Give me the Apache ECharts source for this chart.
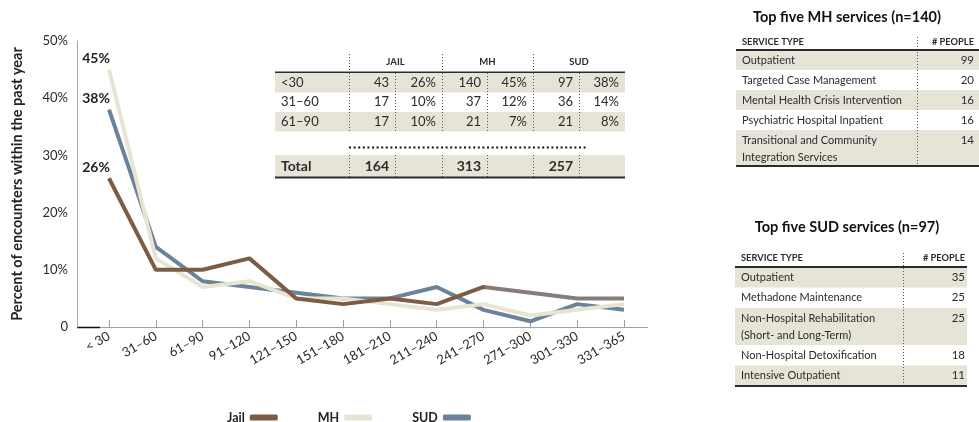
<!DOCTYPE html>
<html>
<head>
<meta charset="utf-8">
<script src="https://cdn.jsdelivr.net/npm/echarts@6/dist/echarts.min.js"></script>
<style>
  html, body { margin: 0; background: #fff; }
  #chart { width: 979px; height: 422px; }
</style>
</head>
<body>
<div id="chart"></div>
<script>
// days since release -> share of encounters (%)
const categories = ['< 30', '31–60', '61–90', '91–120', '121–150', '151–180', '181–210', '211–240', '241–270', '271–300', '301–330', '331–365'];
const jail = [26, 10, 10, 12, 5, 4, 5, 4, 7, 6, 5, 5];
const mh = [45, 12, 7, 8, 5, 5, 4, 3, 4, 2, 3, 4];
const sud = [38, 14, 8, 7, 6, 5, 5, 7, 3, 1, 4, 3];

// small table inside the chart
const dayBands = ['<30', '31–60', '61–90'];
const groups = ['JAIL', 'MH', 'SUD'];
const jailCount = [43, 17, 17];
const jailPct = [26, 10, 10];
const mhCount = [140, 37, 21];
const mhPct = [45, 12, 7];
const sudCount = [97, 36, 21];
const sudPct = [38, 14, 8];
const totals = [164, 313, 257];

// right side tables
const mhServices = ['Outpatient', 'Targeted Case Management', 'Mental Health Crisis Intervention', 'Psychiatric Hospital Inpatient', 'Transitional and Community\nIntegration Services'];
const mhPeople = [99, 20, 16, 16, 14];
const sudServices = ['Outpatient', 'Methadone Maintenance', 'Non-Hospital Rehabilitation\n(Short- and Long-Term)', 'Non-Hospital Detoxification', 'Intensive Outpatient'];
const sudPeople = [35, 25, 25, 18, 11];

const BROWN = '#7d5b44';
const BROWN_TAIL = '#877d78';
const CREAM = '#e6e5d3';
const BLUE = '#6a8398';
const BEIGE = '#e6e4d6';
const INK = '#2b2b2b';
const FONT = 'Lato, sans-serif';

const txt = (x, y, text, o) => ({
  type: 'text', silent: true,
  style: Object.assign({ x, y, text: String(text), fill: INK, font: '13px ' + FONT, align: 'left', verticalAlign: 'middle' }, o)
});
const rect = (x, y, w, h, fill) => ({ type: 'rect', silent: true, shape: { x, y, width: w, height: h }, style: { fill } });
const line = (x1, y1, x2, y2, stroke, lw, dash) => ({
  type: 'line', silent: true, shape: { x1, y1, x2, y2 },
  style: { stroke, lineWidth: lw, lineDash: dash || null }
});

function midTable() {
  const els = [];
  const cols = [349, 395, 442, 487, 533, 579];
  const left = 275, right = 625, top = 73, rowH = 19.5;
  const counts = [jailCount, mhCount, sudCount];
  const pcts = [jailPct, mhPct, sudPct];
  const edge = k => (k < cols.length ? cols[k] : right);

  groups.forEach((g, i) => {
    els.push(txt((edge(2 * i) + edge(2 * i + 2)) / 2, 62, g, { font: 'bold 9.5px ' + FONT, align: 'center' }));
    els.push(line(cols[2 * i] + 0.5, 54, cols[2 * i] + 0.5, 72, '#555', 1, [1, 2]));
  });
  els.push(line(left, 72.5, right, 72.5, INK, 2));

  dayBands.forEach((band, i) => {
    const y = top + i * rowH;
    if (i % 2 === 0) els.push(rect(left, y, right - left, rowH, BEIGE));
    els.push(txt(left + 6, y + rowH / 2, band));
    counts.forEach((c, g) => {
      els.push(txt(edge(2 * g + 1) - 6, y + rowH / 2, c[i], { align: 'right' }));
      els.push(txt(edge(2 * g + 2) - 6, y + rowH / 2, pcts[g][i] + '%', { align: 'right' }));
    });
  });
  const dataBottom = top + dayBands.length * rowH;
  cols.forEach(x => els.push(line(x + 0.5, top, x + 0.5, dataBottom, '#555', 1, [1, 2])));

  els.push(line(349, 147.5, 588, 147.5, '#111', 2, [2, 2.6]));

  const tTop = 155, tH = 22;
  els.push(rect(left, tTop, right - left, tH, BEIGE));
  els.push(txt(left + 6, tTop + tH / 2, 'Total', { font: 'bold 14px ' + FONT }));
  totals.forEach((t, g) => els.push(txt(edge(2 * g + 1) - 6, tTop + tH / 2, t, { font: 'bold 14px ' + FONT, align: 'right' })));
  cols.forEach(x => els.push(line(x + 0.5, tTop, x + 0.5, tTop + tH, '#555', 1, [1, 2])));
  els.push(line(left, tTop + tH + 0.5, right, tTop + tH + 0.5, INK, 2));
  return els;
}

function serviceTable(title, names, people, o) {
  const els = [];
  els.push(txt(o.titleX, o.titleY, title, { font: 'bold 14.5px ' + FONT, align: 'center', fill: '#111' }));
  els.push(txt(o.left + 6, o.headY, 'SERVICE TYPE', { font: 'bold 9.3px ' + FONT }));
  els.push(txt(o.valRight, o.headY, '# PEOPLE', { font: 'bold 9.3px ' + FONT, align: 'right' }));
  let y = o.top;
  names.forEach((n, i) => {
    const h = n.indexOf('\n') >= 0 ? o.twoH : o.rowH;
    if (i % 2 === 0) els.push(rect(o.left, y, o.right - o.left, h, BEIGE));
    const ty = y + o.rowH / 2 - 8.5;
    const f = { font: '11px ' + FONT, verticalAlign: 'top', lineHeight: 17 };
    els.push(txt(o.left + 6, ty, n, f));
    els.push(txt(o.valRight, ty, people[i], Object.assign({ align: 'right', font: '11.5px ' + FONT }, { verticalAlign: 'top', lineHeight: 17 })));
    y += h;
  });
  els.push(line(o.divider + 0.5, o.headY - 5, o.divider + 0.5, y, '#555', 1, [1, 2]));
  els.push(line(o.left, o.top, o.right, o.top, INK, 2));
  els.push(line(o.left, y, o.right, y, INK, 2));
  return els;
}

const chart = echarts.init(document.getElementById('chart'));

const firstLabel = arr => arr.map((v, i) => (i === 0 ? { value: v, label: { show: true } } : v));
const seriesLabel = {
  show: false, position: 'top', distance: 4, offset: [-13, 0],
  formatter: '{c}%', fontWeight: 'bold', fontSize: 14, color: '#222', fontFamily: FONT
};
// tiny symbols so the first-point labels get drawn
const lineBase = { type: 'line', symbol: 'circle', symbolSize: 0.1, showSymbol: true, label: seriesLabel };

chart.setOption({
  animation: false,
  grid: { left: 109, right: 355, top: 41, bottom: 95 },
  legend: {
    left: 222, top: 406, align: 'right', itemGap: 40,
    itemWidth: 28, itemHeight: 6, icon: 'roundRect',
    textStyle: { fontWeight: 'bold', fontSize: 12.5, color: '#222', fontFamily: FONT },
    data: [
      { name: 'Jail', itemStyle: { color: BROWN } },
      { name: 'MH', itemStyle: { color: CREAM } },
      { name: 'SUD', itemStyle: { color: BLUE } }
    ]
  },
  xAxis: {
    type: 'category', data: categories, boundaryGap: false,
    axisLine: { lineStyle: { color: '#a0a0a0' } },
    axisTick: { inside: true, length: 7, lineStyle: { color: '#a0a0a0' } },
    axisLabel: { rotate: 30, interval: 0, margin: 8, color: INK, fontSize: 13, fontFamily: FONT }
  },
  yAxis: {
    type: 'value', min: 0, max: 50, interval: 10, offset: 32,
    axisLine: { show: true, lineStyle: { color: '#a8a8a8' } },
    axisTick: { show: false },
    splitLine: { show: false },
    axisLabel: { formatter: v => (v === 0 ? '0' : v + '%'), color: INK, fontSize: 13, margin: 9, fontFamily: FONT, padding: [5, 0, 0, 0] },
    name: 'Percent of encounters within the past year',
    nameLocation: 'middle', nameRotate: 90, nameGap: 52,
    nameTextStyle: { fontWeight: 'bold', fontSize: 14.5, color: '#222', fontFamily: FONT }
  },
  series: [
    Object.assign({}, lineBase, {
      name: 'SUD', data: firstLabel(sud),
      lineStyle: { width: 4, color: BLUE }, itemStyle: { color: BLUE }
    }),
    Object.assign({}, lineBase, {
      name: 'MH', data: firstLabel(mh),
      lineStyle: { width: 4, color: CREAM }, itemStyle: { color: CREAM }
    }),
    Object.assign({}, lineBase, {
      name: 'Jail', data: firstLabel(jail),
      itemStyle: { color: BROWN },
      lineStyle: {
        width: 4,
        // the tail after 241–270 is printed greyer in the source
        color: new echarts.graphic.LinearGradient(0, 0, 1, 0, [
          { offset: 0, color: BROWN }, { offset: 0.727, color: BROWN },
          { offset: 0.728, color: BROWN_TAIL }, { offset: 1, color: BROWN_TAIL }
        ])
      }
    })
  ],
  graphic: [
    line(77, 327.5, 648, 327.5, '#a0a0a0', 1),
    line(77, 327.5, 100, 327.5, '#111', 1.5),
    ...midTable(),
    ...serviceTable('Top five MH services (n=140)', mhServices, mhPeople,
      { titleX: 847, titleY: 17, headY: 42, left: 736, right: 979, divider: 917, valRight: 974, top: 50, rowH: 20, twoH: 36 }),
    ...serviceTable('Top five SUD services (n=97)', sudServices, sudPeople,
      { titleX: 847, titleY: 227, headY: 258, left: 735, right: 967, divider: 903, valRight: 965, top: 267, rowH: 20.5, twoH: 37 })
  ]
});
</script>
</body>
</html>
